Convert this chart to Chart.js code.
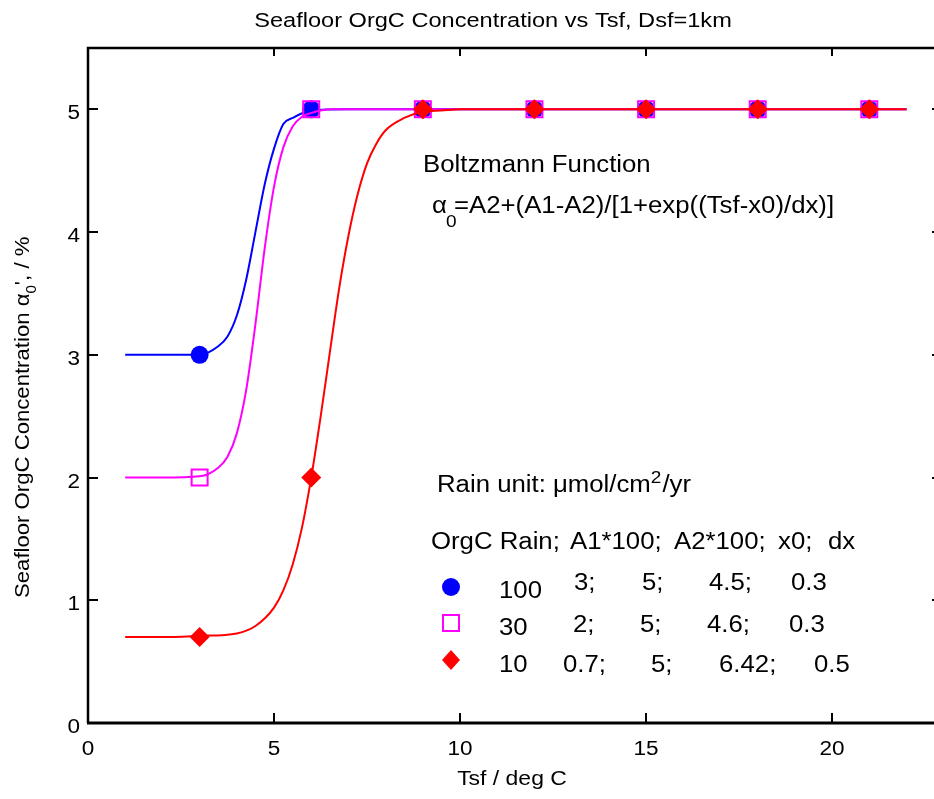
<!DOCTYPE html>
<html>
<head>
<meta charset="utf-8">
<script src="https://cdn.jsdelivr.net/npm/chart.js@4"></script>
<style>
  body { margin: 0; background: #fff; }
  #wrap { width: 934px; height: 799px; overflow: hidden; }
</style>
</head>
<body>
<div id="wrap"><canvas id="myChart" width="960" height="799"></canvas></div>
<script>
// curve points (Tsf, alpha0 in %)
const tsfBlue = [1, 2, 3, 3.5, 3.75, 4, 4.25, 4.5, 4.75, 5, 5.25, 5.5, 6, 7, 10, 15, 22];
const alphaBlue = [3.0, 3.0, 3.0, 3.07, 3.15, 3.32, 3.61, 4.0, 4.39, 4.68, 4.88, 4.93, 4.99, 5.0, 5.0, 5.0, 5.0];

const tsfMag = [1, 2, 3, 3.5, 3.75, 4, 4.25, 4.5, 4.75, 5, 5.25, 5.5, 5.75, 6, 6.5, 7, 10, 15, 22];
const alphaMag = [2.0, 2.0, 2.01, 2.08, 2.17, 2.36, 2.71, 3.25, 3.87, 4.37, 4.69, 4.86, 4.94, 4.97, 5.0, 5.0, 5.0, 5.0, 5.0];

const tsfRed = [1, 2, 3, 4, 4.5, 5, 5.25, 5.5, 5.75, 6, 6.25, 6.5, 6.75, 7, 7.25, 7.5, 7.75, 8, 8.5, 9, 9.5, 10, 15, 22];
const alphaRed = [0.7, 0.7, 0.71, 0.73, 0.79, 0.94, 1.08, 1.29, 1.59, 2.0, 2.49, 3.02, 3.54, 3.97, 4.31, 4.56, 4.72, 4.83, 4.93, 4.98, 4.99, 5.0, 5.0, 5.0];

// symbols
const tsfMark = [3, 6, 9, 12, 15, 18, 21];
const markBlue = [3, 5, 5, 5, 5, 5, 5];
const markMag = [2, 5, 5, 5, 5, 5, 5];
const markRed = [0.7, 2, 5, 5, 5, 5, 5];

// ticks
const xTicks = [0, 5, 10, 15, 20];
const yTicks = [0, 1, 2, 3, 4, 5];

// parameter table
const rainVals = ["100", "30", "10"];
const a1Vals = ["3;", "2;", "0.7;"];
const a2Vals = ["5;", "5;", "5;"];
const x0Vals = ["4.5;", "4.6;", "6.42;"];
const dxVals = ["0.3", "0.3", "0.5"];

const BLUE = "#0000ff", MAG = "#ff00ff", RED = "#ff0000";
const FONT = '"Liberation Sans", Arial, sans-serif';

function pts(xs, ys) {
    return xs.map((x, i) => ({ x: x, y: ys[i] }));
}

// draw text with a little horizontal stretch, returns right end
function txt(ctx, s, x, y, size, align, sx) {
    sx = sx || 1.12;
    ctx.save();
    ctx.font = size + "px " + FONT;
    ctx.textBaseline = "alphabetic";
    ctx.textAlign = "left";
    const w = ctx.measureText(s).width * sx;
    let left = x;
    if (align === "center") left = x - w / 2;
    if (align === "right") left = x - w;
    ctx.translate(left, y);
    ctx.scale(sx, 1);
    ctx.fillStyle = "#000";
    ctx.fillText(s, 0, 0);
    ctx.restore();
    return left + w;
}

function drawSym(ctx, kind, x, y) {
    ctx.save();
    if (kind === "circle") {
        ctx.fillStyle = BLUE;
        ctx.beginPath(); ctx.arc(x, y, 9, 0, Math.PI * 2); ctx.fill();
    } else if (kind === "square") {
        ctx.strokeStyle = MAG; ctx.lineWidth = 2;
        ctx.strokeRect(x - 8, y - 8, 16, 16);
    } else {
        ctx.fillStyle = RED;
        ctx.beginPath();
        ctx.moveTo(x - 9, y); ctx.lineTo(x, y - 10); ctx.lineTo(x + 9, y); ctx.lineTo(x, y + 10);
        ctx.closePath(); ctx.fill();
    }
    ctx.restore();
}

const framePlugin = {
    id: "frame",
    afterDraw(chart) {
        const ctx = chart.ctx;
        const a = chart.chartArea;
        const xs = chart.scales.x, ys = chart.scales.y;

        ctx.save();
        ctx.strokeStyle = "#000";
        ctx.lineWidth = 2.5;
        ctx.beginPath();
        ctx.moveTo(a.left, a.bottom); ctx.lineTo(a.left, a.top); ctx.lineTo(a.right, a.top); ctx.lineTo(a.right, a.bottom);
        ctx.stroke();
        ctx.lineWidth = 3;
        ctx.beginPath(); ctx.moveTo(a.left - 1, a.bottom); ctx.lineTo(a.right, a.bottom); ctx.stroke();

        // inward ticks
        ctx.lineWidth = 2;
        xTicks.forEach(v => {
            const px = Math.round(xs.getPixelForValue(v));
            ctx.beginPath(); ctx.moveTo(px, a.bottom); ctx.lineTo(px, a.bottom - 10); ctx.stroke();
            ctx.beginPath(); ctx.moveTo(px, a.top); ctx.lineTo(px, a.top + 8); ctx.stroke();
            txt(ctx, String(v), px, a.bottom + 32, 20.5, "center", 1.1);
        });
        yTicks.forEach(v => {
            const py = Math.round(ys.getPixelForValue(v));
            ctx.beginPath(); ctx.moveTo(a.left, py); ctx.lineTo(a.left + 10, py); ctx.stroke();
            ctx.beginPath(); ctx.moveTo(a.right, py); ctx.lineTo(a.right - 8, py); ctx.stroke();
            txt(ctx, String(v), a.left - 8, py + 10, 20.5, "right", 1.1);
        });
        ctx.restore();

        // title and axis titles
        txt(ctx, "Seafloor OrgC Concentration vs Tsf, Dsf=1km", 493, 27, 20.5, "center", 1.15);
        txt(ctx, "Tsf / deg C", 512, 785, 20.5, "center", 1.12);

        ctx.save();
        ctx.translate(29, 598);
        ctx.rotate(-Math.PI / 2);
        let p = txt(ctx, "Seafloor OrgC Concentration ", 0, 0, 20.5, "left", 1.08);
        p = txt(ctx, "\u03b1", p, 0, 20.5, "left", 1.08);
        p = txt(ctx, "0", p, 7, 14, "left", 1.08);
        txt(ctx, "', / %", p, 0, 20.5, "left", 1.08);
        ctx.restore();

        // Boltzmann note
        txt(ctx, "Boltzmann Function", 423, 172, 23);
        txt(ctx, "\u03b1", 432, 213, 23);
        txt(ctx, "0", 446, 227, 17);
        txt(ctx, "=A2+(A1-A2)/[1+exp((Tsf-x0)/dx)]", 454, 213, 23);

        // rain unit line
        let q = txt(ctx, "Rain unit: \u03bcmol/cm", 437, 492, 23);
        q = txt(ctx, "2", q, 483, 17);
        txt(ctx, "/yr", q + 1, 492, 23);

        // table
        txt(ctx, "OrgC Rain;", 431, 549, 23);
        txt(ctx, "A1*100;", 570, 549, 23);
        txt(ctx, "A2*100;", 674, 549, 23);
        txt(ctx, "x0;", 778, 549, 23);
        txt(ctx, "dx", 828, 549, 23);

        const syms = ["circle", "square", "diamond"];
        const symY = [587, 623, 660];
        const rainY = [598, 635, 672];
        const valY = [590, 632, 672];
        const a1X = [574, 573, 563];
        const a2X = [642, 640, 651];
        const x0X = [709, 707, 719];
        const dxX = [791, 789, 814];
        for (let i = 0; i < 3; i++) {
            drawSym(ctx, syms[i], 451, symY[i]);
            txt(ctx, rainVals[i], 499, rainY[i], 23);
            txt(ctx, a1Vals[i], a1X[i], valY[i], 23);
            txt(ctx, a2Vals[i], a2X[i], valY[i], 23);
            txt(ctx, x0Vals[i], x0X[i], valY[i], 23);
            txt(ctx, dxVals[i], dxX[i], valY[i], 23);
        }
    }
};

const lineStyle = {
    showLine: true,
    pointRadius: 0,
    borderWidth: 2,
    cubicInterpolationMode: "monotone",
    fill: false
};

const ctx = document.getElementById("myChart").getContext("2d");
const myChart = new Chart(ctx, {
    type: "scatter",
    data: {
        datasets: [
            Object.assign({ data: pts(tsfBlue, alphaBlue), borderColor: BLUE, order: 6 }, lineStyle),
            { data: pts(tsfMark, markBlue), pointStyle: "circle", pointRadius: 9, backgroundColor: BLUE, borderColor: BLUE, borderWidth: 0, order: 5 },
            Object.assign({ data: pts(tsfMag, alphaMag), borderColor: MAG, order: 4 }, lineStyle),
            { data: pts(tsfMark, markMag), pointStyle: "rect", pointRadius: 11.3, backgroundColor: "rgba(0,0,0,0)", borderColor: MAG, borderWidth: 2, order: 3 },
            Object.assign({ data: pts(tsfRed, alphaRed), borderColor: RED, order: 2 }, lineStyle),
            { data: pts(tsfMark, markRed), pointStyle: "rectRot", pointRadius: 10, backgroundColor: RED, borderColor: RED, borderWidth: 0, order: 1 }
        ]
    },
    options: {
        responsive: false,
        animation: false,
        devicePixelRatio: 1,
        layout: { autoPadding: false, padding: { left: 88, top: 48, right: 20, bottom: 76 } },
        plugins: { legend: { display: false }, tooltip: { enabled: false } },
        scales: {
            x: { type: "linear", min: 0, max: 22.9, display: false },
            y: { type: "linear", min: 0, max: 5.5, display: false }
        }
    },
    plugins: [framePlugin]
});
</script>
</body>
</html>
